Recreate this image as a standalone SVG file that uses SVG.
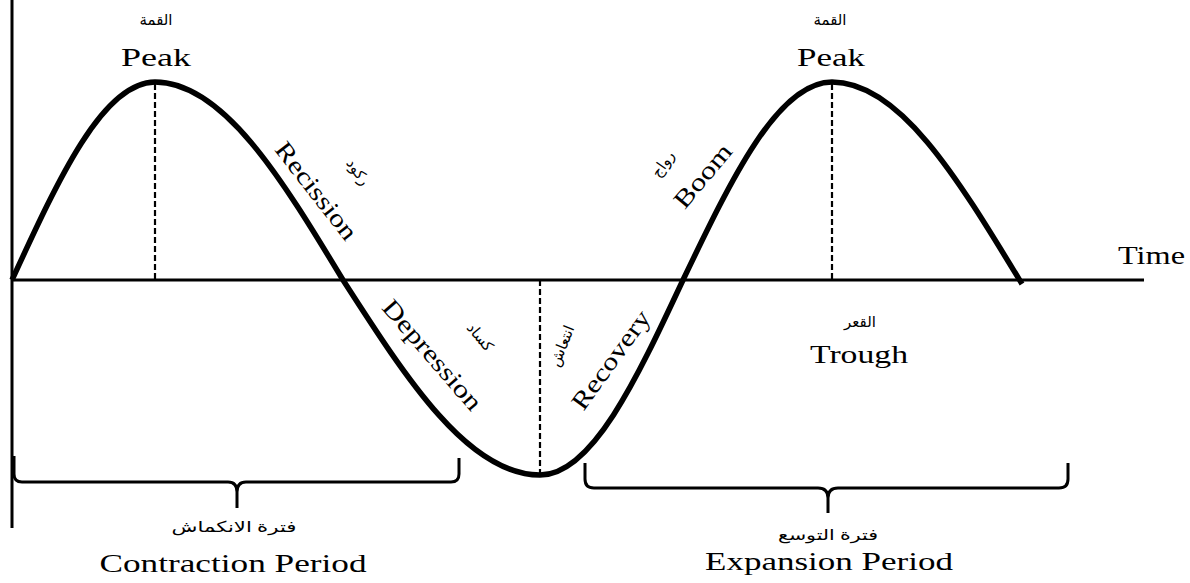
<svg xmlns="http://www.w3.org/2000/svg" width="1190" height="583" viewBox="0 0 1190 583">
<style>
.en{font-family:"Liberation Serif","Times New Roman",serif;font-size:25px;fill:#000;}
.ar{font-family:"Liberation Serif","DejaVu Sans",serif;font-size:15px;fill:#000;}
.axis{stroke:#000;stroke-width:3;fill:none;}
.curve{stroke:#000;stroke-width:5.5;fill:none;stroke-linejoin:round;}
.dash{stroke:#000;stroke-width:2.2;stroke-dasharray:6 3;fill:none;}
.brace{stroke:#000;stroke-width:3;fill:none;stroke-linejoin:round;}
</style>
<rect width="1190" height="583" fill="#fff"/>
<g id="connectors">
  <line class="axis" x1="12" y1="0" x2="12" y2="528"/>
  <line class="axis" x1="12" y1="280" x2="1144" y2="280"/>
  <line class="dash" x1="155" y1="84" x2="155" y2="280"/>
  <line class="dash" x1="832" y1="84" x2="832" y2="280"/>
  <line class="dash" x1="540" y1="280" x2="540" y2="474"/>
  <path class="curve" d="M12,280 C58.6,178.6 103,82 155,82 C223,82 281.7,178.6 343,280 C407.2,379.8 468.5,475 540,475 C591.9,475 636.4,379.8 683,280 C731.6,178.6 777.9,82 832,82 C900.2,82 958.7,180 1022,284"/>
  <path class="brace" d="M14,456 V474 Q14,482 22,482 H228 Q237,482 237,492 V508 M459,458 V474 Q459,482 451,482 H246 Q237,482 237,492"/>
  <path class="brace" d="M585,463 V479 Q585,488 594,488 H818 Q828,488 828,498 V513 M1068,463 V479 Q1068,488 1059,488 H838 Q828,488 828,498"/>
</g>
<g id="peak-left">
  <text class="ar" x="156" y="25" text-anchor="middle">القمة</text>
  <text class="en" x="156" y="66" text-anchor="middle" textLength="70" lengthAdjust="spacingAndGlyphs">Peak</text>
</g>
<g id="peak-right">
  <text class="ar" x="830" y="25" text-anchor="middle">القمة</text>
  <text class="en" x="831" y="66" text-anchor="middle" textLength="68" lengthAdjust="spacingAndGlyphs">Peak</text>
</g>
<g id="time">
  <text class="en" x="1118" y="264" textLength="67" lengthAdjust="spacingAndGlyphs">Time</text>
</g>
<g id="recession">
  <text class="en" transform="translate(316,191) rotate(52)" x="0" y="8" text-anchor="middle" textLength="117" lengthAdjust="spacingAndGlyphs">Recission</text>
  <text class="ar" transform="translate(358,172) rotate(55)" x="0" y="5" text-anchor="middle">ركود</text>
</g>
<g id="depression">
  <text class="en" transform="translate(432,355) rotate(49)" x="0" y="8" text-anchor="middle" textLength="138" lengthAdjust="spacingAndGlyphs">Depression</text>
  <text class="ar" transform="translate(480,337) rotate(50)" x="0" y="5" text-anchor="middle">كساد</text>
</g>
<g id="recovery">
  <text class="en" transform="translate(611,360) rotate(-54)" x="0" y="8" text-anchor="middle" textLength="116" lengthAdjust="spacingAndGlyphs">Recovery</text>
  <text class="ar" transform="translate(562,346) rotate(-68)" x="0" y="5" text-anchor="middle">انتعاش</text>
</g>
<g id="boom">
  <text class="en" transform="translate(703,176) rotate(-50)" x="0" y="8" text-anchor="middle" textLength="76" lengthAdjust="spacingAndGlyphs">Boom</text>
  <text class="ar" transform="translate(663,164) rotate(-55)" x="0" y="5" text-anchor="middle">رواج</text>
</g>
<g id="trough">
  <text class="ar" x="860" y="327" text-anchor="middle">القعر</text>
  <text class="en" x="859" y="363" text-anchor="middle" textLength="98" lengthAdjust="spacingAndGlyphs">Trough</text>
</g>
<g id="contraction">
  <text class="ar" x="234" y="532" text-anchor="middle" textLength="125" lengthAdjust="spacingAndGlyphs">فترة الانكماش</text>
  <text class="en" x="233" y="572" text-anchor="middle" textLength="267" lengthAdjust="spacingAndGlyphs">Contraction Period</text>
</g>
<g id="expansion">
  <text class="ar" x="828" y="540" text-anchor="middle" textLength="100" lengthAdjust="spacingAndGlyphs">فترة التوسع</text>
  <text class="en" x="829" y="570" text-anchor="middle" textLength="248" lengthAdjust="spacingAndGlyphs">Expansion Period</text>
</g>
</svg>
